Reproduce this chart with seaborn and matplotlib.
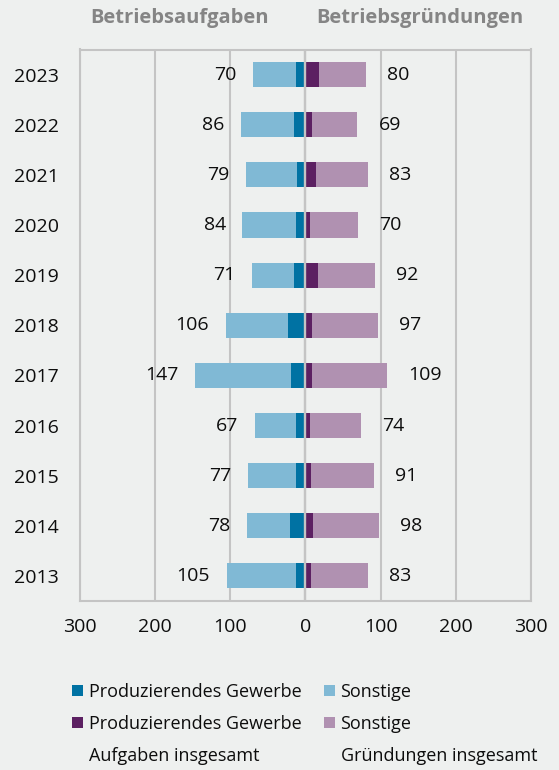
import matplotlib
matplotlib.use('Agg')
import matplotlib.pyplot as plt
import seaborn as sns
import pandas as pd
from matplotlib.patches import Patch

# ---- data ----
years = ['2023', '2022', '2021', '2020', '2019', '2018', '2017', '2016', '2015', '2014', '2013']
aufgaben_total = [70, 86, 79, 84, 71, 106, 147, 67, 77, 78, 105]
aufgaben_prod = [13, 15, 11, 12, 15, 23, 19, 13, 13, 20, 13]
gruendungen_total = [80, 69, 83, 70, 92, 97, 109, 74, 91, 98, 83]
gruendungen_prod = [18, 8, 14, 6, 16, 9, 9, 6, 7, 10, 7]

x_ticks = [-300, -200, -100, 0, 100, 200, 300]
x_tick_labels = ['300', '200', '100', '0', '100', '200', '300']

header_left = 'Betriebsaufgaben'
header_right = 'Betriebsgründungen'
legend_labels = ['Produzierendes Gewerbe', 'Produzierendes Gewerbe', 'Aufgaben insgesamt',
                 'Sonstige', 'Sonstige', 'Gründungen insgesamt']

# ---- style ----
BG = '#eef0ef'
GRID = '#c4c4c4'
BLUE_DARK = '#0072a3'
BLUE_LIGHT = '#80b9d5'
PURPLE_DARK = '#5c2062'
PURPLE_LIGHT = '#b091b1'
TEXT = '#0d0d0d'

sns.set_theme(style='white')
plt.rcParams['font.family'] = ['Open Sans', 'DejaVu Sans']

df = pd.DataFrame({
    'Jahr': years,
    'auf_total': [-v for v in aufgaben_total],
    'auf_prod': [-v for v in aufgaben_prod],
    'gr_total': gruendungen_total,
    'gr_prod': gruendungen_prod,
})

fig = plt.figure(figsize=(5.59, 7.7), dpi=100, facecolor=BG)
ax = fig.add_axes([80 / 559, 1 - 601 / 770, 451 / 559, 551.5 / 770])
ax.set_facecolor(BG)

common = dict(data=df, y='Jahr', order=years, orient='h', width=0.5,
              saturation=1, edgecolor='none', linewidth=0, ax=ax, zorder=2)
sns.barplot(x='auf_total', color=BLUE_LIGHT, **common)
sns.barplot(x='auf_prod', color=BLUE_DARK, **common)
sns.barplot(x='gr_total', color=PURPLE_LIGHT, **common)
sns.barplot(x='gr_prod', color=PURPLE_DARK, **common)

ax.set_xlim(-300, 300)
ax.set_xticks(x_ticks)
ax.set_xticklabels(x_tick_labels)
ax.set_xlabel('')
ax.set_ylabel('')
ax.grid(axis='x', color=GRID, lw=1.5, zorder=0)
ax.grid(axis='y', visible=False)
ax.set_axisbelow(True)
ax.axvline(0, color=GRID, lw=1.7, zorder=5)
for s in ax.spines.values():
    s.set_color(GRID)
    s.set_linewidth(1.5)

FS = 14
ax.tick_params(axis='x', length=6, width=1.5, color=GRID, pad=6, labelsize=FS, labelcolor=TEXT)
ax.tick_params(axis='y', length=0, pad=15, labelsize=FS, labelcolor=TEXT)

for i, v in enumerate(aufgaben_total):
    ax.text(-v - 22, i, str(v), ha='right', va='center', fontsize=FS, color=TEXT, zorder=6)
for i, v in enumerate(gruendungen_total):
    ax.text(v + 28, i, str(v), ha='left', va='center', fontsize=FS, color=TEXT, zorder=6)

fig.text(180 / 559, 1 - 18 / 770, header_left, ha='center', va='center',
         fontsize=14.5, fontweight='bold', color='#858585')
fig.text(420 / 559, 1 - 18 / 770, header_right, ha='center', va='center',
         fontsize=14.5, fontweight='bold', color='#858585')

handles = [Patch(facecolor=BLUE_DARK, edgecolor='none'),
           Patch(facecolor=PURPLE_DARK, edgecolor='none'),
           Patch(facecolor='none', edgecolor='none'),
           Patch(facecolor=BLUE_LIGHT, edgecolor='none'),
           Patch(facecolor=PURPLE_LIGHT, edgecolor='none'),
           Patch(facecolor='none', edgecolor='none')]
leg = fig.legend(handles, legend_labels, ncol=2, loc='upper left',
                 bbox_to_anchor=(72 / 559, 1 - 683 / 770), frameon=False,
                 borderpad=0, borderaxespad=0, handlelength=0.6, handleheight=0.6,
                 handletextpad=0.32, columnspacing=1.25, labelspacing=0.78,
                 prop={'size': 13})
for t in leg.get_texts():
    t.set_color(TEXT)

fig.savefig('out.png', dpi=100, facecolor=BG)
